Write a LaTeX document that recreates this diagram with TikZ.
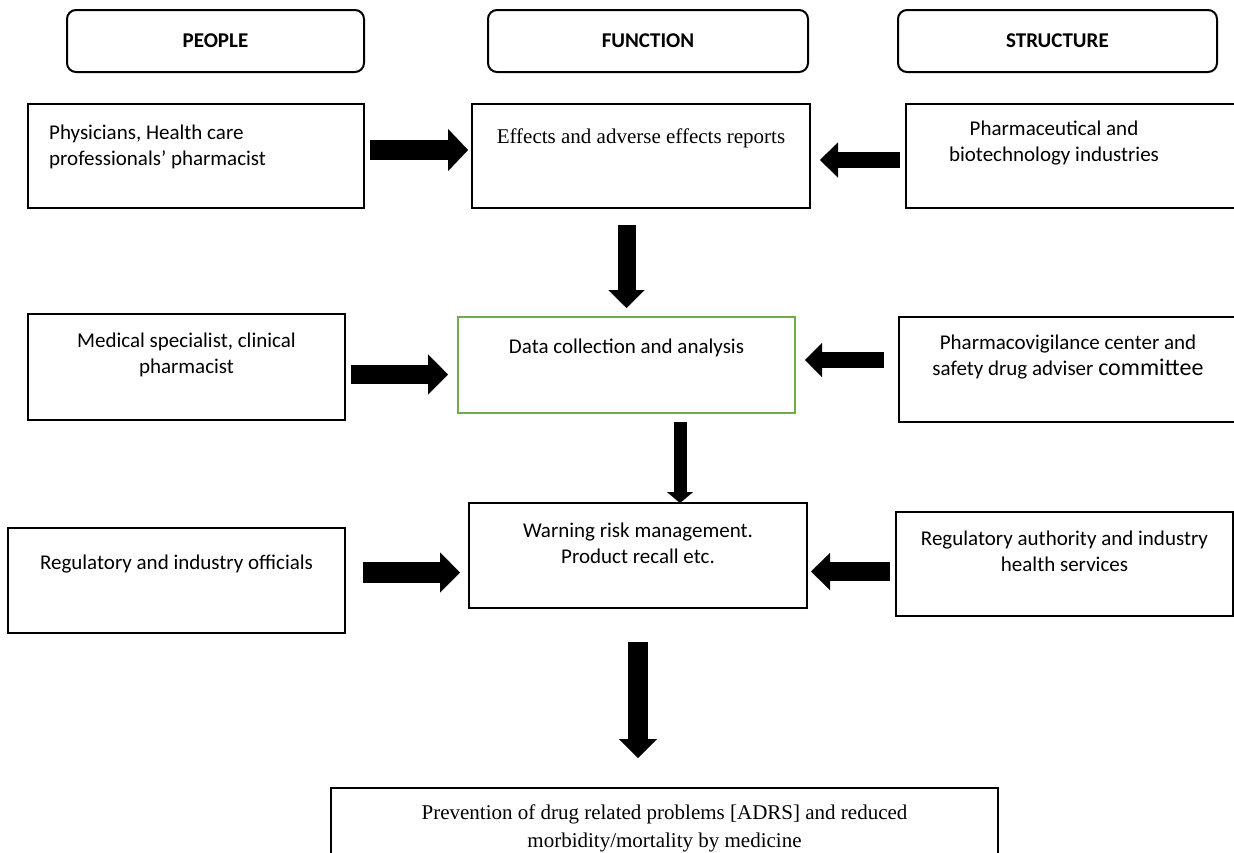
\documentclass[tikz,border=0pt]{standalone}
\usepackage{fontspec}
\setmainfont{Carlito}
\newfontfamily\tnr{Liberation Serif}
\usetikzlibrary{arrows.meta,calc}
\definecolor{grn}{HTML}{70AD47}
\newcommand\mystrut{\rule{0pt}{18pt}}
\begin{document}
\begin{tikzpicture}[x=1pt,y=-1pt,
  box/.style={draw,line width=2pt,anchor=north west,inner sep=0pt,outer sep=0pt,rectangle},
  hdr/.style={draw,line width=2pt,rounded corners=9pt,anchor=north west,inner sep=0pt,outer sep=0pt,
    font=\bfseries\fontsize{21}{26}\selectfont},
  txt/.style={anchor=north,inner sep=0pt,align=center,font=\fontsize{21}{26}\selectfont},
  sertxt/.style={anchor=north,inner sep=0pt,align=center,font=\tnr\fontsize{21}{28}\selectfont},
  blockarrow/.style n args={3}{line width=#1,-{Triangle[width=#2,length=#3,line width=0.1pt]}}
]
\useasboundingbox (0,0) rectangle (1234,852);
\fill[white] (0,0) rectangle (1234,852);

% headers
\node[hdr,minimum width=297pt,minimum height=62pt] (hp) at (67,10) {PEOPLE};
\node[hdr,minimum width=320pt,minimum height=62pt] (hf) at (488,10) {FUNCTION};
\node[hdr,minimum width=319pt,minimum height=62pt] (hs) at (898,10) {STRUCTURE};

% row 1
\node[box,minimum width=336pt,minimum height=104pt] (phys) at (28,104) {};
\node[box,minimum width=338pt,minimum height=104pt] (eff) at (472,104) {};
\node[box,minimum width=340pt,minimum height=104pt] (pharm) at (906,104) {};

% row 2
\node[box,minimum width=317pt,minimum height=106pt] (med) at (28,314) {};
\node[box,draw=grn,line width=2.5pt,minimum width=337pt,minimum height=96pt] (data) at (458,317) {};
\node[box,minimum width=345pt,minimum height=105pt] (pv) at (899,317) {};

% row 3
\node[box,minimum width=337pt,minimum height=105pt] (reg) at (8,528) {};
\node[box,minimum width=338pt,minimum height=105pt] (warn) at (469,503) {};
\node[box,minimum width=337pt,minimum height=104pt] (ra) at (896,512) {};

% bottom
\node[box,minimum width=667pt,minimum height=100pt] (prev) at (331,788) {};

% texts
\node[txt,anchor=north west,align=left] (tphys) at ($(phys.north west)+(21,17)$)
  {\mystrut Physicians, Health care\\professionals’ pharmacist};
\node[sertxt] (teff) at ($(eff.north)+(0,21)$) {\mystrut Effects and adverse effects reports};
\node[txt] (tpharm) at ($(pharm.north west)+(148,13)$) {\mystrut Pharmaceutical and\\biotechnology industries};
\node[txt] (tmed) at ($(med.north)+(0,15)$) {\mystrut Medical specialist, clinical\\pharmacist};
\node[txt] (tdata) at ($(data.north)+(0,18)$) {\mystrut Data collection and analysis};
\node[txt] (tpv) at ($(pv.north west)+(169,14)$)
  {\mystrut Pharmacovigilance center and\\safety drug adviser {\fontsize{24}{26}\selectfont committee}};
\node[txt] (treg) at ($(reg.north)+(0,23)$) {\mystrut Regulatory and industry officials};
\node[txt] (twarn) at ($(warn.north)+(0,16)$) {\mystrut Warning risk management.\\Product recall etc.};
\node[txt] (tra) at ($(ra.north)+(0,15)$) {\mystrut Regulatory authority and industry\\health services};
\node[sertxt] (tprev) at ($(prev.north)+(0,13)$)
  {\mystrut Prevention of drug related problems [ADRS] and reduced\\morbidity/mortality by medicine};

% arrows
\draw[blockarrow={20pt}{42pt}{20pt},shorten <=6pt,shorten >=4pt]
  ($(phys.east)+(0,-6)$) -- ($(eff.west)+(0,-6)$);
\draw[blockarrow={16pt}{35pt}{18pt},shorten <=6pt,shorten >=10pt]
  ($(pharm.west)+(0,4)$) -- ($(eff.east)+(0,4)$);
\draw[blockarrow={18pt}{36pt}{18pt},shorten <=17pt,shorten >=9pt]
  (data.north |- eff.south) -- (data.north);

\coordinate (a3s) at ($(med.east)+(0,7.5)$);
\draw[blockarrow={19pt}{40pt}{20pt},shorten <=6pt,shorten >=10pt]
  (a3s) -- (a3s -| data.west);
\coordinate (a4e) at ($(data.east)+(0,-5)$);
\draw[blockarrow={16pt}{34pt}{17pt},shorten <=15pt,shorten >=10pt]
  (a4e -| pv.west) -- (a4e);
\coordinate (v2s) at ($(data.south)+(53.5,0)$);
\draw[blockarrow={13pt}{26pt}{11pt},shorten <=9pt,shorten >=0pt]
  (v2s) -- (v2s |- warn.north);

\coordinate (a5s) at ($(reg.east)+(0,-8)$);
\draw[blockarrow={21pt}{40pt}{20pt},shorten <=18pt,shorten >=9pt]
  (a5s) -- (a5s -| warn.west);
\coordinate (a6s) at ($(ra.west)+(0,7.5)$);
\draw[blockarrow={19pt}{37pt}{19pt},shorten <=6pt,shorten >=4pt]
  (a6s) -- (a6s -| warn.east);

\draw[blockarrow={20pt}{38pt}{19pt},shorten <=34pt,shorten >=30pt]
  (warn.south) -- (warn.south |- prev.north);
\end{tikzpicture}
\end{document}
